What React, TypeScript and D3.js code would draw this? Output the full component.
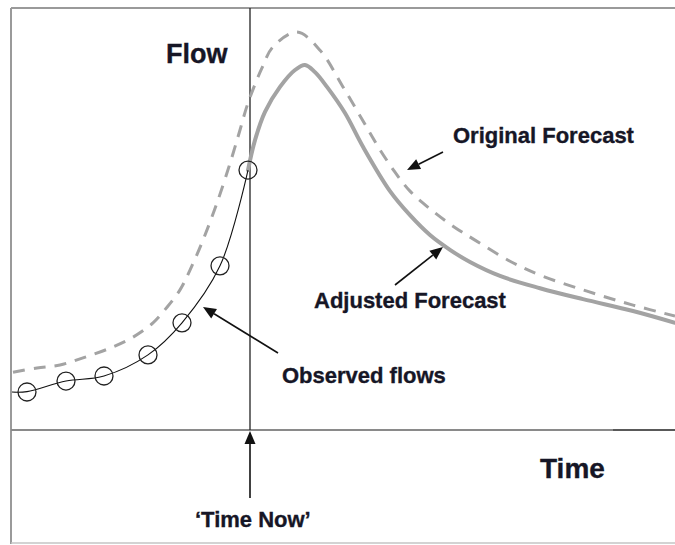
import React from "react";
import * as d3 from "d3";

// ---- data (time in hours, flow in arbitrary units) ----
const timeNow = 23.9;

const observedTimes = [1.6, 5.5, 9.3, 13.7, 17.1, 20.9, 23.7];
const observedFlows = [9.0, 11.6, 12.8, 17.8, 25.4, 38.9, 61.6];

const observedLineTimes = [0.1, 1.6, 5.5, 9.3, 13.7, 17.1, 20.9, 23.7];
const observedLineFlows = [9.0, 9.1, 11.6, 12.8, 17.8, 25.4, 38.9, 61.6];

const originalTimes = [0.2, 2.6, 4.9, 7.2, 9.9, 12.2, 14.2, 15.6, 16.9, 17.9, 19.2, 20.7, 22.1, 22.9, 23.7, 25.1, 26.2, 28.6, 30.9, 33.2, 35.9, 36.9, 38.4, 39.9, 41.9, 44.2, 46.4, 49.9, 52.9, 57.6, 62.2, 66.4];
const originalFlows = [13.7, 14.7, 15.4, 17.1, 19.4, 22.0, 25.4, 29.1, 33.2, 37.9, 45.0, 54.5, 64.7, 71.1, 77.5, 85.8, 90.8, 94.3, 90.0, 81.3, 70.4, 66.4, 61.1, 56.6, 52.4, 48.3, 45.0, 40.0, 36.7, 32.9, 29.6, 27.0];

const adjustedTimes = [23.7, 24.4, 25.4, 26.9, 28.4, 29.4, 30.4, 31.6, 33.4, 35.2, 37.9, 39.9, 41.9, 43.9, 45.9, 48.9, 52.9, 57.2, 62.2, 66.4];
const adjustedFlows = [61.6, 68.7, 75.4, 81.3, 85.3, 86.5, 84.8, 81.3, 75.1, 67.1, 56.6, 50.9, 46.2, 42.7, 39.8, 36.5, 33.6, 31.0, 28.2, 25.4];

const labels = {
  flow: "Flow",
  time: "Time",
  original: "Original Forecast",
  adjusted: "Adjusted Forecast",
  observed: "Observed flows",
  now: "\u2018Time Now\u2019",
};

const W = 675;
const H = 545;

export default function App() {
  const x = d3.scaleLinear().domain([0, 66.4]).range([11, 675]);
  const y = d3.scaleLinear().domain([0, 100]).range([430, 8]);

  const line = d3
    .line<[number, number]>()
    .x((d) => x(d[0]))
    .y((d) => y(d[1]))
    .curve(d3.curveCatmullRom.alpha(0.5));

  const zip = (a: number[], b: number[]) => a.map((v, i) => [v, b[i]] as [number, number]);

  const obsLine = line(zip(observedLineTimes, observedLineFlows)) || "";
  const origLine = line(zip(originalTimes, originalFlows)) || "";
  const adjLine = line(zip(adjustedTimes, adjustedFlows)) || "";

  const font = "'Liberation Sans', Arial, Helvetica, sans-serif";
  const textColor = "#161626";

  const arrow = (x1: number, y1: number, x2: number, y2: number, key: string) => {
    const ang = Math.atan2(y2 - y1, x2 - x1);
    const len = 13;
    const wid = 5.5;
    const bx = x2 - len * Math.cos(ang);
    const by = y2 - len * Math.sin(ang);
    const px = -Math.sin(ang) * wid;
    const py = Math.cos(ang) * wid;
    return (
      <g key={key}>
        <line x1={x1} y1={y1} x2={bx} y2={by} stroke="#111" strokeWidth={1.6} />
        <polygon points={`${x2},${y2} ${bx + px},${by + py} ${bx - px},${by - py}`} fill="#111" />
      </g>
    );
  };

  const xn = x(timeNow);

  return (
    <svg
      width={W}
      height={H}
      style={{ position: "absolute", left: 0, top: 0, background: "#fff" }}
    >
      {/* frame */}
      <line x1={11} y1={8} x2={675} y2={8} stroke="#9a9a9a" strokeWidth={2} />
      <line x1={11} y1={8} x2={11} y2={544} stroke="#9a9a9a" strokeWidth={2} />
      <line x1={11} y1={543} x2={675} y2={543} stroke="#c4c4c4" strokeWidth={1.5} />

      {/* time axis */}
      <line x1={11} y1={y(0)} x2={613} y2={y(0)} stroke="#8a8a8a" strokeWidth={2} />
      <line x1={613} y1={y(0)} x2={675} y2={y(0)} stroke="#222" strokeWidth={1.5} />

      {/* time now line */}
      <line x1={xn} y1={y(100)} x2={xn} y2={y(0)} stroke="#222" strokeWidth={1.3} />

      {/* original forecast (dashed) */}
      <path d={origLine} fill="none" stroke="#a3a3a3" strokeWidth={3} strokeDasharray="12,9" />

      {/* adjusted forecast */}
      <path d={adjLine} fill="none" stroke="#a3a3a3" strokeWidth={4} strokeLinecap="round" />

      {/* observed */}
      <path d={obsLine} fill="none" stroke="#111" strokeWidth={1.1} />
      {observedTimes.map((t, i) => (
        <circle key={i} cx={x(t)} cy={y(observedFlows[i])} r={9} fill="none" stroke="#222" strokeWidth={1.3} />
      ))}

      {/* arrows */}
      {arrow(443, 152, 407, 170, "a1")}
      {arrow(395, 285, 443, 247, "a2")}
      {arrow(278, 353, 203, 307, "a3")}
      {arrow(xn, 498, xn, y(0) + 1, "a4")}

      {/* labels */}
      <g fontFamily={font} fontWeight="bold" fill={textColor} stroke={textColor} strokeWidth={0.35}>
        <text x={166} y={63} fontSize={27}>{labels.flow}</text>
        <text x={540} y={478} fontSize={28}>{labels.time}</text>
        <text x={453} y={143} fontSize={22}>{labels.original}</text>
        <text x={314} y={308} fontSize={22}>{labels.adjusted}</text>
        <text x={282} y={383} fontSize={22}>{labels.observed}</text>
        <text x={195} y={527} fontSize={22}>{labels.now}</text>
      </g>
    </svg>
  );
}
